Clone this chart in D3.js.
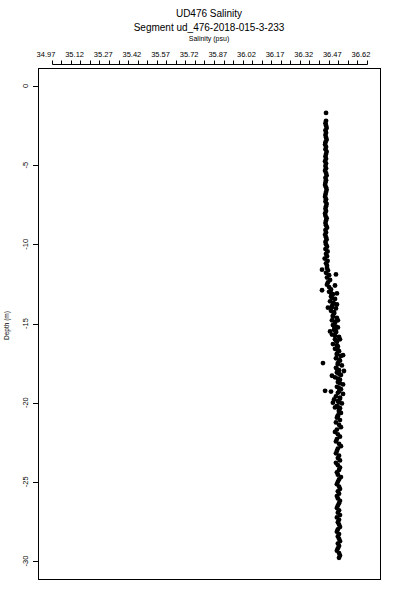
<!DOCTYPE html>
<html>
<head>
<meta charset="utf-8">
<script src="https://cdn.jsdelivr.net/npm/d3@7"></script>
<style>
  html, body { margin: 0; padding: 0; background: #fff; }
  svg { display: block; }
  text { font-family: "Liberation Sans", Arial, Helvetica, sans-serif; fill: #000; }
</style>
</head>
<body>
<svg id="chart" width="400" height="600"></svg>
<script>
// ---- Data ----
const title = "UD476 Salinity";
const subtitle = "Segment ud_476-2018-015-3-233";
const xTitle = "Salinity (psu)";
const yTitle = "Depth (m)";

const xTickLabels = [34.97, 35.12, 35.27, 35.42, 35.57, 35.72, 35.87, 36.02, 36.17, 36.32, 36.47, 36.62];
const xMinorTicks = [35.00, 35.05, 35.10, 35.15, 35.20, 35.25, 35.30, 35.35, 35.40, 35.45, 35.50, 35.55,
                     35.60, 35.65, 35.70, 35.75, 35.80, 35.85, 35.90, 35.95, 36.00, 36.05, 36.10, 36.15,
                     36.20, 36.25, 36.30, 36.35, 36.40, 36.45, 36.50, 36.55, 36.60, 36.65];
const yTicks = [0, -5, -10, -15, -20, -25, -30];

const depth = [
  -1.7,
  -2.2,-2.35,-2.5,-2.65,-2.8,-2.95,-3.1,-3.25,-3.4,-3.55,-3.7,-3.85,-4.0,-4.15,-4.3,-4.45,-4.6,-4.75,-4.9,
  -5.05,-5.2,-5.35,-5.5,-5.65,-5.8,-5.95,-6.1,-6.25,-6.4,-6.55,-6.7,-6.85,-7.0,-7.15,-7.3,-7.45,-7.6,-7.75,-7.9,
  -8.05,-8.2,-8.35,-8.5,-8.65,-8.8,-8.95,-9.1,-9.25,-9.4,-9.55,-9.7,-9.85,
  -10.0,-10.15,-10.3,-10.45,-10.6,-10.75,-10.9,-11.05,-11.2,-11.35,
  -11.5,-11.65,-11.8,-11.95,-12.1,-12.25,-12.4,-12.55,-12.7,-12.85,
  -11.6,-11.9,-12.9,-12.6,-13.1,
  -13.0,-13.15,-13.3,-13.45,-13.6,-13.75,-13.9,-14.05,-14.2,-14.35,-14.5,-14.65,-14.8,-14.95,-15.1,-15.25,
  -15.4,-15.55,-15.7,-15.85,-16.0,-16.15,-16.3,-16.45,
  -14.0,-14.8,-15.5,-16.0,-15.2,-13.8,
  -16.6,-16.75,-16.9,-17.05,-17.2,-17.35,-17.5,-17.65,-17.8,-17.95,-18.1,-18.25,-18.4,-18.55,-18.7,-18.85,
  -17.5,-17.0,-18.0,-18.3,-19.3,-19.25,
  -19.0,-19.15,-19.3,-19.45,-19.6,-19.75,-19.9,-20.05,-20.2,-20.35,-20.5,-20.65,-20.8,
  -19.8,-20.0,-20.3,
  -13.08,-13.38,-13.68,-13.98,-14.28,-14.58,-14.88,-15.18,-15.48,-15.78,-16.08,-16.38,-16.68,-16.98,
  -17.28,-17.58,-17.88,-18.18,-18.48,-18.78,-19.08,-19.38,-19.68,-19.98,-20.28,-20.58,-20.88,
  -20.95,-21.1,-21.25,-21.4,-21.55,-21.7,-21.85,-22.0,-22.15,-22.3,
  -22.45,-22.6,-22.75,-22.9,-23.05,-23.2,-23.35,-23.5,-23.65,-23.8,
  -23.95,-24.1,-24.25,-24.4,-24.55,-24.7,-24.85,-25.0,-25.15,-25.3,
  -25.45,-25.6,-25.75,-25.9,-26.05,-26.2,-26.35,-26.5,-26.65,-26.8,
  -26.95,-27.1,-27.25,-27.4,-27.55,-27.7,-27.85,-28.0,-28.15,-28.3,
  -28.45,-28.6,-28.75,-28.9,-29.05,-29.2,-29.35,-29.5,-29.65,-29.8
];

const salinity = [
  36.437,
  36.437,36.434,36.437,36.440,36.434,36.437,36.434,36.437,36.440,36.434,36.432,36.437,36.434,36.440,36.437,36.434,36.437,36.432,36.437,
  36.434,36.437,36.432,36.437,36.440,36.434,36.437,36.434,36.432,36.437,36.440,36.437,36.434,36.432,36.437,36.434,36.440,36.437,36.434,36.437,
  36.432,36.434,36.440,36.437,36.434,36.437,36.442,36.434,36.437,36.432,36.437,36.440,36.434,
  36.437,36.442,36.434,36.445,36.437,36.442,36.430,36.445,36.437,36.442,
  36.442,36.447,36.437,36.453,36.442,36.458,36.447,36.442,36.453,36.463,
  36.416,36.489,36.416,36.484,36.494,
  36.453,36.473,36.463,36.484,36.458,36.479,36.468,36.489,36.463,36.479,36.473,36.494,36.468,36.484,36.473,36.499,
  36.479,36.489,36.468,36.505,36.484,36.494,36.473,36.499,
  36.447,36.499,36.458,36.510,36.489,36.494,
  36.484,36.505,36.494,36.515,36.489,36.510,36.499,36.520,36.489,36.505,36.494,36.515,36.484,36.510,36.499,36.526,
  36.421,36.526,36.531,36.468,36.463,36.432,
  36.494,36.515,36.505,36.526,36.489,36.510,36.499,36.520,36.494,36.510,36.505,36.515,36.499,
  36.479,36.473,36.484,
  36.463,36.468,36.473,36.468,36.479,36.473,36.484,36.479,36.489,36.484,36.489,36.494,36.499,36.494,
  36.505,36.499,36.494,36.505,36.499,36.510,36.505,36.499,36.510,36.505,36.499,36.505,36.499,
  36.494,36.510,36.489,36.505,36.515,36.494,36.484,36.499,36.510,36.494,
  36.489,36.505,36.515,36.499,36.494,36.489,36.505,36.499,36.510,36.489,
  36.499,36.510,36.505,36.494,36.499,36.515,36.505,36.499,36.494,36.505,
  36.510,36.499,36.505,36.494,36.499,36.510,36.505,36.499,36.494,36.505,
  36.499,36.510,36.494,36.505,36.499,36.505,36.510,36.499,36.494,36.505,
  36.499,36.505,36.510,36.499,36.505,36.499,36.494,36.505,36.510,36.505
];

// ---- Layout ----
const box = { left: 38, right: 380, top: 68, bottom: 579 };
const svg = d3.select("#chart");

const x = d3.scaleLinear().domain([35.00, 36.65]).range([51.7, 366.7]);
const y = d3.scaleLinear().domain([0, -30]).range([86, 561]);

// Titles
const cx = (box.left + box.right) / 2;
svg.append("text").attr("x", cx).attr("y", 17).attr("text-anchor", "middle")
  .attr("font-size", 10).text(title);
svg.append("text").attr("x", cx).attr("y", 31).attr("text-anchor", "middle")
  .attr("font-size", 10).text(subtitle);
svg.append("text").attr("x", cx).attr("y", 41).attr("text-anchor", "middle")
  .attr("font-size", 7).text(xTitle);

// Top axis: minor ticks + line
const topAxisY = 64.5;
const gx = svg.append("g");
gx.append("line")
  .attr("x1", Math.round(x(xMinorTicks[0])) + 0.5)
  .attr("x2", Math.round(x(xMinorTicks[xMinorTicks.length - 1])) + 0.5)
  .attr("y1", topAxisY).attr("y2", topAxisY)
  .attr("stroke", "#000").attr("stroke-width", 1);
gx.selectAll("line.tick").data(xMinorTicks).join("line")
  .attr("class", "tick")
  .attr("x1", d => Math.round(x(d)) + 0.5).attr("x2", d => Math.round(x(d)) + 0.5)
  .attr("y1", topAxisY).attr("y2", topAxisY - 4)
  .attr("stroke", "#000").attr("stroke-width", 1);
gx.selectAll("text").data(xTickLabels).join("text")
  .attr("x", d => x(d)).attr("y", 57)
  .attr("text-anchor", "middle").attr("font-size", 7.5)
  .text(d => d.toFixed(2));

// Left axis
const gy = svg.append("g");
gy.selectAll("line").data(yTicks).join("line")
  .attr("x1", box.left - 5).attr("x2", box.left)
  .attr("y1", d => Math.round(y(d)) + 0.5).attr("y2", d => Math.round(y(d)) + 0.5)
  .attr("stroke", "#000").attr("stroke-width", 1);
gy.selectAll("text").data(yTicks).join("text")
  .attr("transform", d => `translate(27.5,${y(d)}) rotate(-90)`)
  .attr("text-anchor", "middle").attr("font-size", 7.5)
  .text(d => d);

svg.append("text")
  .attr("transform", `translate(8.5,${(box.top + box.bottom) / 2 + 2}) rotate(-90)`)
  .attr("text-anchor", "middle").attr("font-size", 6.5)
  .text(yTitle);

// Box
svg.append("rect")
  .attr("x", box.left + 0.5).attr("y", box.top + 0.5)
  .attr("width", box.right - box.left).attr("height", box.bottom - box.top)
  .attr("fill", "none").attr("stroke", "#000").attr("stroke-width", 1);

// Points
svg.append("g").selectAll("circle").data(depth.map((d, i) => [salinity[i], d])).join("circle")
  .attr("cx", d => x(d[0])).attr("cy", d => y(d[1]))
  .attr("r", 2.4).attr("fill", "#000");
</script>
</body>
</html>
